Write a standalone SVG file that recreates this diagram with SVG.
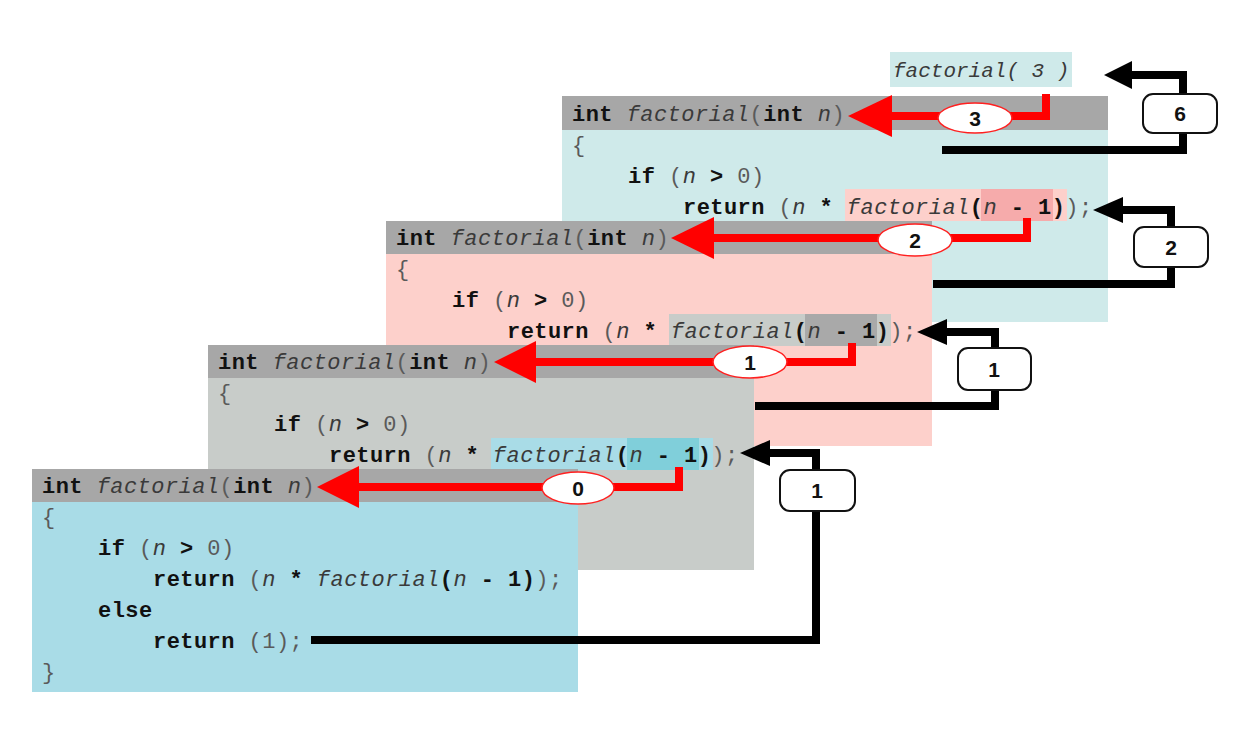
<svg xmlns="http://www.w3.org/2000/svg" width="1234" height="730" viewBox="0 0 1234 730" xml:space="preserve">
<defs>
<style>
.c{font-family:"Liberation Mono","DejaVu Sans Mono",monospace;font-size:22px;letter-spacing:0.45px;fill:#5a5a5a}
.k{font-weight:bold;fill:#111}
.i{font-style:italic;fill:#3a3a3a}
.hd{fill:#a7a7a7}
.red{fill:none;stroke:#ff0000;stroke-width:8}
.redh{fill:#ff0000}
.blk{fill:none;stroke:#000;stroke-width:8}
.blkh{fill:#000}
.ell{fill:#fff;stroke:#ff2020;stroke-width:1.5}
.box{fill:#fff;stroke:#111;stroke-width:2}
.lbl{font-family:"Liberation Sans",Arial,sans-serif;font-weight:bold;font-size:21px;fill:#111;text-anchor:middle}
</style>
</defs>
<rect width="1234" height="730" fill="#fff"/>

<g id="call-label">
<rect x="890" y="52" width="182" height="35" fill="#cfeaea"/>
<text class="c" x="893" y="77" style="font-size:21px;letter-spacing:0"><tspan class="i">factorial( 3 )</tspan></text>
</g>

<g id="frame3">
<rect x="562" y="96" width="546" height="226" fill="#cfeaea"/>
<rect class="hd" x="562" y="96" width="546" height="34"/>
<rect x="845" y="189" width="222" height="32" fill="#fdd0cb"/>
<rect x="981" y="189" width="72" height="32" fill="#f6abab"/>
<text class="c" x="572" y="121"><tspan class="k">int</tspan> <tspan class="i">factorial</tspan>(<tspan class="k">int</tspan> <tspan class="i">n</tspan>)</text>
<text class="c" x="572" y="152">{</text>
<text class="c" x="628" y="183"><tspan class="k">if</tspan> (<tspan class="i">n</tspan> <tspan class="k">&gt;</tspan> 0)</text>
<text class="c" x="683" y="214"><tspan class="k">return</tspan> (<tspan class="i">n</tspan> <tspan class="k">*</tspan> <tspan class="i">factorial</tspan><tspan class="k">(</tspan><tspan class="i">n</tspan> <tspan class="k">- 1)</tspan>);</text>
</g>

<g id="frame2">
<rect x="386" y="221" width="546" height="225" fill="#fdd0cb"/>
<rect class="hd" x="386" y="221" width="546" height="33"/>
<rect x="669" y="314" width="222" height="32" fill="#c8ccc9"/>
<rect x="805" y="314" width="72" height="32" fill="#a9a9a9"/>
<text class="c" x="396" y="245"><tspan class="k">int</tspan> <tspan class="i">factorial</tspan>(<tspan class="k">int</tspan> <tspan class="i">n</tspan>)</text>
<text class="c" x="396" y="276">{</text>
<text class="c" x="452" y="307"><tspan class="k">if</tspan> (<tspan class="i">n</tspan> <tspan class="k">&gt;</tspan> 0)</text>
<text class="c" x="507" y="338"><tspan class="k">return</tspan> (<tspan class="i">n</tspan> <tspan class="k">*</tspan> <tspan class="i">factorial</tspan><tspan class="k">(</tspan><tspan class="i">n</tspan> <tspan class="k">- 1)</tspan>);</text>
</g>

<g id="frame1">
<rect x="208" y="345" width="546" height="225" fill="#c8ccc9"/>
<rect class="hd" x="208" y="345" width="546" height="33"/>
<rect x="491" y="438" width="222" height="32" fill="#a9dce7"/>
<rect x="627" y="438" width="72" height="32" fill="#80cfda"/>
<text class="c" x="218" y="369"><tspan class="k">int</tspan> <tspan class="i">factorial</tspan>(<tspan class="k">int</tspan> <tspan class="i">n</tspan>)</text>
<text class="c" x="218" y="400">{</text>
<text class="c" x="274" y="431"><tspan class="k">if</tspan> (<tspan class="i">n</tspan> <tspan class="k">&gt;</tspan> 0)</text>
<text class="c" x="329" y="462"><tspan class="k">return</tspan> (<tspan class="i">n</tspan> <tspan class="k">*</tspan> <tspan class="i">factorial</tspan><tspan class="k">(</tspan><tspan class="i">n</tspan> <tspan class="k">- 1)</tspan>);</text>
</g>

<g id="frame0">
<rect x="32" y="469" width="546" height="223" fill="#a9dce7"/>
<rect class="hd" x="32" y="469" width="546" height="33"/>
<text class="c" x="42" y="493"><tspan class="k">int</tspan> <tspan class="i">factorial</tspan>(<tspan class="k">int</tspan> <tspan class="i">n</tspan>)</text>
<text class="c" x="42" y="524">{</text>
<text class="c" x="98" y="555"><tspan class="k">if</tspan> (<tspan class="i">n</tspan> <tspan class="k">&gt;</tspan> 0)</text>
<text class="c" x="153" y="586"><tspan class="k">return</tspan> (<tspan class="i">n</tspan> <tspan class="k">*</tspan> <tspan class="i">factorial</tspan><tspan class="k">(</tspan><tspan class="i">n</tspan> <tspan class="k">- 1)</tspan>);</text>
<text class="c" x="98" y="617"><tspan class="k">else</tspan></text>
<text class="c" x="153" y="648"><tspan class="k">return</tspan> (1);</text>
<text class="c" x="42" y="679">}</text>
</g>

<g id="connectors">
<path class="red" d="M1046,94 V116 H888"/>
<polygon class="redh" points="848,116 892,95 892,137"/>
<ellipse class="ell" cx="975" cy="118" rx="37" ry="15"/>
<text class="lbl" x="975" y="126">3</text>

<path class="red" d="M1027,218 V238 H710"/>
<polygon class="redh" points="671,238 714,217 714,259"/>
<ellipse class="ell" cx="915" cy="240" rx="37" ry="16"/>
<text class="lbl" x="915" y="248">2</text>

<path class="red" d="M852,343 V362 H532"/>
<polygon class="redh" points="494,362 536,341 536,383"/>
<ellipse class="ell" cx="750" cy="362" rx="37" ry="16"/>
<text class="lbl" x="750" y="370">1</text>

<path class="red" d="M679,467 V487 H355"/>
<polygon class="redh" points="317,487 359,466 359,508"/>
<ellipse class="ell" cx="578" cy="488" rx="36" ry="16"/>
<text class="lbl" x="578" y="496">0</text>

<path class="blk" d="M1128,75 H1183 V150 H942"/>
<polygon class="blkh" points="1104,75 1132,61 1132,89"/>
<rect class="box" x="1143" y="94" width="74" height="39" rx="10"/>
<text class="lbl" x="1180" y="121">6</text>

<path class="blk" d="M1120,210 H1171 V284 H933"/>
<polygon class="blkh" points="1093,210 1123,197 1123,223"/>
<rect class="box" x="1134" y="227" width="74" height="40" rx="10"/>
<text class="lbl" x="1171" y="255">2</text>

<path class="blk" d="M943,332 H995 V406 H755"/>
<polygon class="blkh" points="917,332 947,319 947,345"/>
<rect class="box" x="958" y="348" width="73" height="42" rx="10"/>
<text class="lbl" x="994" y="377">1</text>

<path class="blk" d="M766,453 H816 V640 H311"/>
<polygon class="blkh" points="740,453 770,440 770,466"/>
<rect class="box" x="780" y="470" width="75" height="41" rx="10"/>
<text class="lbl" x="817" y="498">1</text>
</g>
</svg>
